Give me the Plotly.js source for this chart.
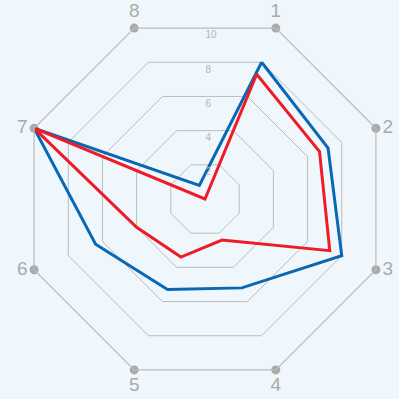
<!DOCTYPE html>
<html>
<head>
<meta charset="utf-8">
<script src="https://cdn.plot.ly/plotly-3.0.1.min.js"></script>
<style>html,body{margin:0;padding:0;background:#eff7fc;}#chart{width:399px;height:399px;}</style>
</head>
<body>
<div id="chart"></div>
<script>
const categories = ['1', '2', '3', '4', '5', '6', '7', '8'];
const seriesBlue = [8.0, 7.2, 8.0, 5.2, 5.3, 6.4, 10, 0.8];
const seriesRed = [7.3, 6.7, 7.3, 2.4, 3.4, 4.0, 10, 0];
const radialTicks = [2, 4, 6, 8, 10];
const radialMax = 10;

const closed = arr => arr.concat([arr[0]]);
const thetaClosed = closed(categories);

const labelPositions = ['top center', 'middle right', 'middle right', 'bottom center',
                        'bottom center', 'middle left', 'middle left', 'top center'];

const dots = {
  type: 'scatterpolar', mode: 'markers+text',
  r: categories.map(() => radialMax).concat([0]),
  theta: categories.concat([categories[7]]),
  text: categories.concat(['']),
  textposition: labelPositions.concat(['top center']),
  textfont: {family: 'Liberation Sans, Arial, sans-serif', size: 19, color: '#aaaaaa'},
  cliponaxis: false,
  marker: {color: '#aaaaaa', size: 9},
  hoverinfo: 'skip', showlegend: false, subplot: 'polar'
};
const blue = {
  type: 'scatterpolar', mode: 'lines',
  r: closed(seriesBlue), theta: thetaClosed,
  line: {color: '#0a67b4', width: 3},
  showlegend: false, subplot: 'polar'
};
const red = {
  type: 'scatterpolar', mode: 'lines',
  r: closed(seriesRed), theta: thetaClosed,
  line: {color: '#ee1c25', width: 3},
  showlegend: false, subplot: 'polar'
};
// dummy trace for label-only overlay subplot
const labelHost = {
  type: 'scatterpolar', mode: 'markers', r: [0], theta: [0],
  marker: {opacity: 0}, hoverinfo: 'skip', showlegend: false, subplot: 'polar2'
};

const dom = {x: [20/399, 390/399], y: [15/399, 385/399]};
const domLabels = {x: [20/399, 390/399], y: [8/399, 378/399]};
const layout = {
  width: 399, height: 399,
  margin: {l: 0, r: 0, t: 0, b: 0},
  paper_bgcolor: '#eff7fc',
  showlegend: false,
  polar: {
    domain: dom,
    bgcolor: '#eff7fc',
    gridshape: 'linear',
    angularaxis: {
      type: 'category', direction: 'clockwise', rotation: 67.5,
      showgrid: false, showline: true, linecolor: '#bbbbbb', linewidth: 1.2,
      ticks: '', showticklabels: false
    },
    radialaxis: {
      range: [0, radialMax], tickvals: radialTicks, showticklabels: false,
      showline: false, ticks: '', gridcolor: '#bbbbbb', gridwidth: 1
    }
  },
  polar2: {
    domain: domLabels,
    bgcolor: 'rgba(0,0,0,0)',
    angularaxis: {visible: false, showgrid: false, showline: false, showticklabels: false, rotation: 0, direction: 'counterclockwise'},
    radialaxis: {
      range: [0, radialMax / Math.cos(Math.PI / 8)], angle: 90, tickangle: 90,
      tickvals: radialTicks, ticktext: radialTicks.map(String),
      showgrid: false, showline: false, ticks: '',
      tickfont: {family: 'Liberation Sans, Arial, sans-serif', size: 10, color: '#b5b5b5'}
    }
  }
};
Plotly.newPlot('chart', [dots, blue, red, labelHost], layout, {staticPlot: true});
</script>
</body>
</html>
